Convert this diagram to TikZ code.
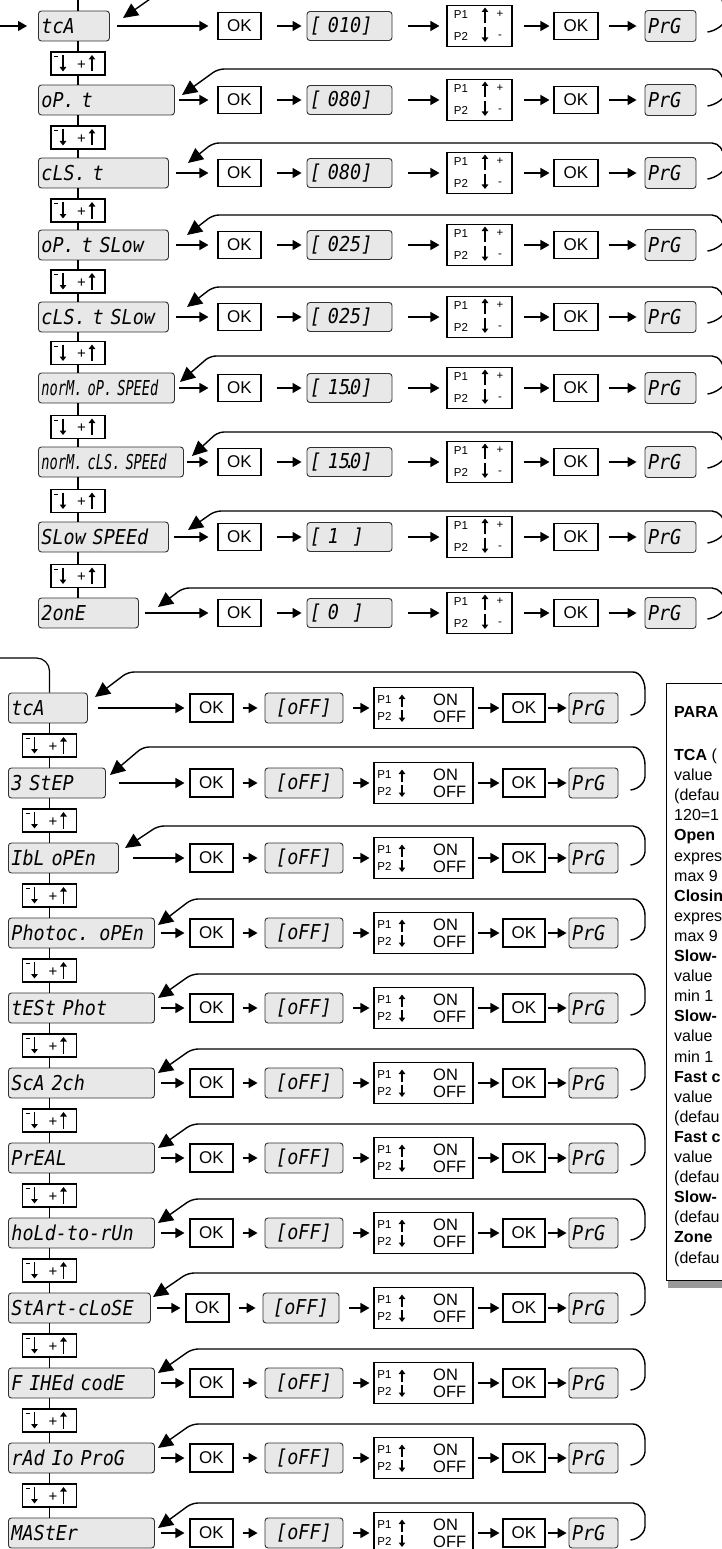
\documentclass[tikz,border=0pt]{standalone}
\usepackage{fontspec}
\usepackage{graphicx}
\setmainfont{Liberation Sans}
\newfontfamily\lcdfont{DejaVu Sans Mono}[FakeStretch=0.9]
\usetikzlibrary{arrows.meta,calc}
\definecolor{lcdfill}{HTML}{E8E8E8}
\definecolor{boxline}{HTML}{303030}
\definecolor{shadowgray}{HTML}{999999}
\tikzset{
  lcd/.style={font={\lcdfont\itshape\fontsize{20.5}{20.5}\selectfont}},
  param/.style={draw=boxline, line width=0.9pt, rounded corners=3pt, fill=lcdfill, minimum height=30pt, inner xsep=3pt, inner ysep=0pt, anchor=west, align=left, lcd},
  valbox/.style={draw=boxline, line width=0.9pt, rounded corners=3pt, fill=lcdfill, minimum height=29pt, inner xsep=3pt, inner ysep=0pt, align=left, lcd},
  okbox/.style={draw=black, line width=1.1pt, minimum height=27pt, inner sep=0pt, fill=white, font={\fontsize{17}{17}\selectfont}},
  pbox/.style={draw=black, line width=1.1pt, minimum height=41pt, inner sep=0pt, fill=white},
  sbox/.style={draw=black, line width=1.1pt, minimum width=54pt, minimum height=23pt, inner sep=0pt, fill=white},
  tinytxt/.style={inner sep=0pt, font={\fontsize{11.5}{11.5}\selectfont}},
  midtxt/.style={inner sep=0pt, font={\fontsize{16.5}{16.5}\selectfont}},
  plustxt/.style={inner sep=0pt, font={\fontsize{15}{15}\selectfont}},
  arr/.style={line width=1.3pt, -{Triangle[length=9pt,width=10pt]}},
  looparr/.style={line width=1.4pt, rounded corners=6pt, -{Triangle[length=15pt,width=14pt]}},
  tarr/.style={line width=1.2pt, -{Triangle[length=4.5pt,width=6.5pt]}},
  vline/.style={line width=1.2pt},
  ptxt/.style={anchor=base west, inner sep=0pt, font={\fontsize{16}{16}\selectfont}},
}
\begin{document}
\begin{tikzpicture}[x=1pt,y=-1pt]
\useasboundingbox (0,0) rectangle (722,1549);
\begin{scope}
\clip (0,0) rectangle (722,1549);

% ---------------- TOP SECTION ----------------
\foreach \ii/\cy/\rx/\txt/\val/\ly/\kx/\tipx/\tipy/\sx in {
 1/26/109/{tcA}/{[\ 010]}/-8/160/123/18/116,
 2/100/174/{oP. t}/{[\ 080]}/69/218/182/95/178,
 3/173/168/{cLS. t}/{[\ 080]}/143/213/188/163/175,
 4/245/168/{oP. t SLow}/{[\ 025]}/215/213/187/235/175,
 5/317/168/{cLS. t SLow}/{[\ 025]}/287/213/187/307/175,
 6/388/174/{\scalebox{0.74}[1]{norM. oP. SPEEd}}/{[\ 15\makebox[0pt]{.}0]}/356/210/180/382/178,
 7/462/183/{\scalebox{0.74}[1]{norM. cLS. SPEEd}}/{[\ 15\makebox[0pt]{.}0]}/432/218/192/456/186,
 8/537/168/{SLow SPEEd}/{[\ 1\ \ ]}/511/215/188/530/173,
 9/613/138/{2onE}/{[\ 0\ \ ]}/588/183/158/607/144%
}{
 \pgfmathsetmacro\tw{\rx-44}
 \node[param, text width=\tw pt] (pT\ii) at (38,\cy) {\txt};
 \node[okbox, minimum width=43pt] (okA\ii) at (239.5,\cy) {OK};
 \node[valbox, minimum width=85pt, text width=79pt] (valT\ii) at (349.5,\cy) {\val};
 \node[pbox, minimum width=65pt] (pmT\ii) at (479.5,\cy) {};
 \node[okbox, minimum width=44pt] (okB\ii) at (576,\cy) {OK};
 \node[valbox, minimum width=51pt, text width=45pt, minimum height=31pt] (prgT\ii) at (670.5,\cy) {PrG};
 \begin{scope}[shift={(479.5,\cy)}]
  \node[tinytxt] (pa\ii) at (-18.5,-11.5) {P1};
  \node[tinytxt] (pb\ii) at (-18.5,10.5) {P2};
  \draw[tarr] (5.5,-3) -- (5.5,-18.5);
  \draw[tarr] (5.5,1) -- (5.5,16);
  \node[tinytxt] (pc\ii) at (20.5,-11.5) {+};
  \node[tinytxt] (pd\ii) at (20.5,10.5) {-};
 \end{scope}
 \pgfmathsetmacro\gp{\sx-\rx}
 \draw[arr, shorten <=\gp pt, shorten >=9pt] (pT\ii.east) -- (okA\ii.west);
 \draw[arr, shorten <=15pt, shorten >=5pt] (okA\ii.east) -- (valT\ii.west);
 \draw[arr, shorten <=16pt, shorten >=7pt] (valT\ii.east) -- (pmT\ii.west);
 \draw[arr, shorten <=11pt, shorten >=4pt] (pmT\ii.east) -- (okB\ii.west);
 \draw[arr, shorten <=10pt, shorten >=8pt] (okB\ii.east) -- (prgT\ii.west);
 \coordinate (tipT\ii) at (\tipx,\tipy);
 \draw[looparr] ($(prgT\ii.east)+(11,6)$) .. controls (716,\cy+5) and (724,\cy-2) .. (724,\cy-10) .. controls (724,\ly+8) and (719,\ly) .. (706,\ly) -- (\kx,\ly) -- (tipT\ii);
}

\foreach \ii/\my in {1/63.5,2/137.5,3/210.5,4/281.5,5/353,6/427,7/501,8/576}{
 \pgfmathtruncatemacro\jj{\ii+1}
 \node[sbox] (sT\ii) at (78,\my) {};
 \draw[vline] (sT\ii.north |- pT\ii.south) -- (sT\ii.north);
 \draw[vline] (sT\ii.south) -- (sT\ii.south |- pT\jj.north);
 \begin{scope}[shift={(78,\my)}]
  \draw[line width=1pt] (-24,-7) -- (-20,-7);
  \draw[tarr] (-15,-8.5) -- (-15,8);
  \node[plustxt] (sTp\ii) at (3.5,1.5) {+};
  \draw[tarr] (14,8) -- (14,-8.5);
 \end{scope}
}

\coordinate (inT) at (0,26);
\coordinate (upT) at (78,0);
\draw[arr, shorten >=11pt] (inT) -- (pT1.west);
\draw[vline] (upT) -- (upT |- pT1.north);

% ---------------- BOTTOM SECTION ----------------
\foreach \ii/\cy/\rx/\txt/\ly/\kx/\tipx/\tipy/\sx/\okx/\vx/\vw in {
 1/708/87/{tcA}/672/128/95/697/97/211.5/304/78,
 2/783/105/{3 StEP}/747/143/110/775/118/211.5/304/78,
 3/858/118/{IbL oPEn}/826/158/125/848/132/211.5/304/78,
 4/933/154/{Photoc. oPEn}/899/192/158/925/160/211.5/304/78,
 5/1008/154/{tESt Phot}/974/192/158/998/160/211.5/304/78,
 6/1083/154/{ScA 2ch}/1049/192/158/1073/160/211.5/304/78,
 7/1158/154/{PrEAL}/1124/192/158/1148/160/211.5/304/78,
 8/1233/154/{hoLd-to-rUn}/1199/192/158/1223/160/211.5/304/78,
 9/1308/150/{StArt-cLoSE}/1273/188/153/1297/156/207.5/301/76,
 10/1383/154/{F IHEd codE}/1349/192/158/1373/160/211.5/304/78,
 11/1458/154/{rAd Io ProG}/1424/192/158/1448/160/211.5/304/78,
 12/1533/154/{MAStEr}/1503/192/158/1528/160/211.5/304/78%
}{
 \pgfmathsetmacro\tw{\rx-14}
 \pgfmathsetmacro\vtw{\vw-6}
 \node[param, text width=\tw pt] (pB\ii) at (8,\cy) {\txt};
 \node[okbox, minimum width=43pt, minimum height=28pt] (okC\ii) at (\okx,\cy) {OK};
 \node[valbox, minimum width=\vw pt, text width=\vtw pt, align=center, minimum height=30pt] (valB\ii) at (\vx,\cy) {[oFF]};
 \node[pbox, minimum width=99pt] (pmB\ii) at (423.5,\cy) {};
 \node[okbox, minimum width=42pt, minimum height=28pt] (okD\ii) at (524,\cy) {OK};
 \node[valbox, minimum width=49pt, text width=43pt, minimum height=30pt] (prgB\ii) at (593.5,\cy) {PrG};
 \begin{scope}[shift={(423.5,\cy)}]
  \node[tinytxt] (qa\ii) at (-39,-8.5) {P1};
  \node[tinytxt] (qb\ii) at (-39,8.5) {P2};
  \draw[tarr] (-21.5,-1) -- (-21.5,-13.5);
  \draw[tarr] (-21.5,2) -- (-21.5,14);
  \node[midtxt, anchor=west] (qc\ii) at (9.5,-8.5) {ON};
  \node[midtxt, anchor=west] (qd\ii) at (9.5,8.5) {OFF};
 \end{scope}
 \pgfmathsetmacro\gp{\sx-\rx}
 \draw[arr, shorten <=\gp pt, shorten >=5pt] (pB\ii.east) -- (okC\ii.west);
 \draw[arr, shorten <=9pt, shorten >=7pt] (okC\ii.east) -- (valB\ii.west);
 \draw[arr, shorten <=10pt, shorten >=4pt] (valB\ii.east) -- (pmB\ii.west);
 \draw[arr, shorten <=4pt, shorten >=3pt] (pmB\ii.east) -- (okD\ii.west);
 \draw[arr, shorten <=2pt, shorten >=2pt] (okD\ii.east) -- (prgB\ii.west);
 \coordinate (tipB\ii) at (\tipx,\tipy);
 \draw[looparr] ($(prgB\ii.east)+(12,7)$) .. controls (640,\cy+6) and (645,\cy-2) .. (645,\cy-12) .. controls (645,\ly+9) and (640,\ly) .. (627,\ly) -- (\kx,\ly) -- (tipB\ii);
}

\foreach \ii in {1,...,11}{
 \pgfmathtruncatemacro\jj{\ii+1}
 \pgfmathsetmacro\my{670.5+75*\ii}
 \node[sbox] (sB\ii) at (49.5,\my) {};
 \draw[vline] (sB\ii.north |- pB\ii.south) -- (sB\ii.north);
 \draw[vline] (sB\ii.south) -- (sB\ii.south |- pB\jj.north);
 \begin{scope}[shift={(49.5,\my)}]
  \draw[line width=1pt] (-24,-7) -- (-20,-7);
  \draw[tarr] (-15,-8.5) -- (-15,8);
  \node[plustxt] (sBp\ii) at (3.5,1.5) {+};
  \draw[tarr] (14,8) -- (14,-8.5);
 \end{scope}
}
\coordinate (inB) at (0,658);
\draw[vline, rounded corners=13pt] (inB) -| (sB1.north |- pB1.north);

% ---------------- PANEL ----------------
\fill[shadowgray] (668,1280) rectangle (730,1288);
\node[draw=black, line width=0.9pt, anchor=north west, minimum width=80pt, minimum height=597pt, inner sep=0pt] (panel) at (666,683) {};
\node[ptxt] (ph) at (674,717) {\bfseries PARA};
\foreach \k/\lineT in {
 1/{{\bfseries TCA} (},
 2/{value},
 3/{(defau},
 4/{120=1},
 5/{\bfseries Open},
 6/{expres},
 7/{max 9},
 8/{\bfseries Closin},
 9/{expres},
 10/{max 9},
 11/{\bfseries Slow-},
 12/{value},
 13/{min 1},
 14/{\bfseries Slow-},
 15/{value},
 16/{min 1},
 17/{\bfseries Fast c},
 18/{value},
 19/{(defau},
 20/{\bfseries Fast c},
 21/{value},
 22/{(defau},
 23/{\bfseries Slow-},
 24/{(defau},
 25/{\bfseries Zone},
 26/{(defau}%
}{
 \pgfmathsetmacro\by{760.5+20.1*(\k-1)}
 \node[ptxt] (pl\k) at (674,\by) {\lineT};
}
\end{scope}
\end{tikzpicture}
\end{document}
